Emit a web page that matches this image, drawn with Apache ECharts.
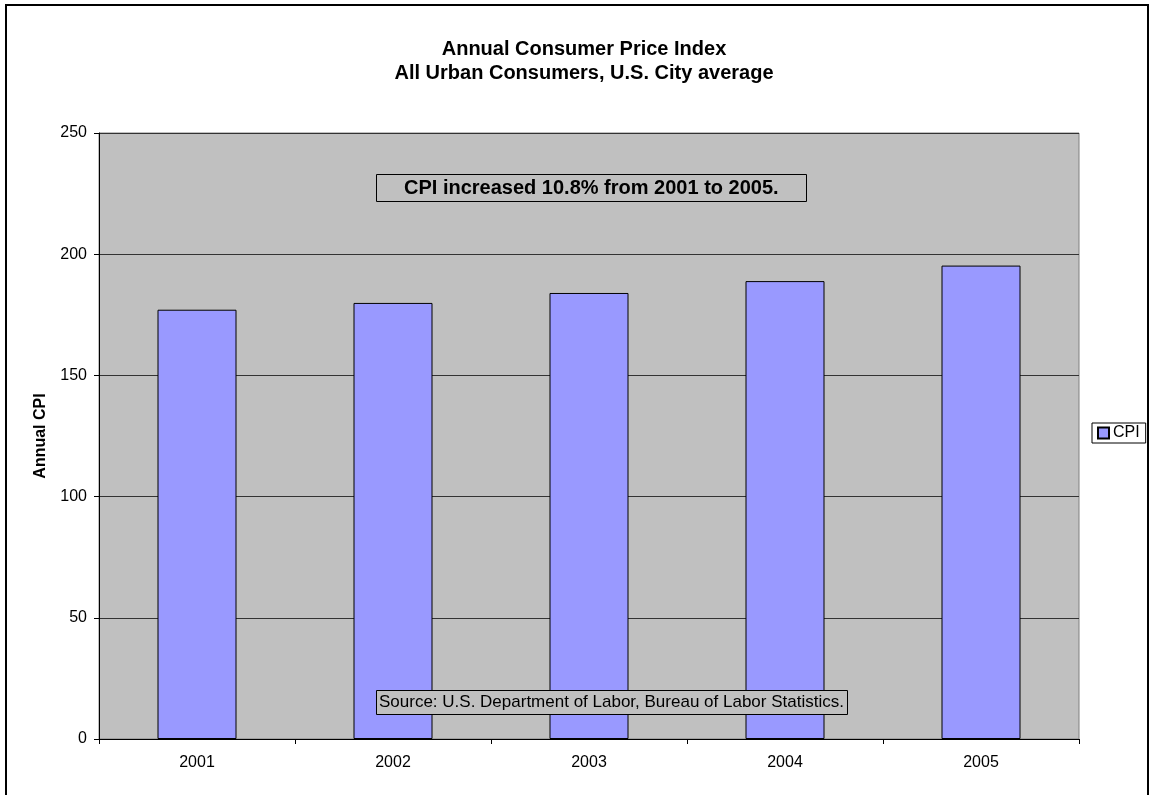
<!DOCTYPE html>
<html>
<head>
<meta charset="utf-8">
<script src="https://cdn.jsdelivr.net/npm/echarts@6/dist/echarts.min.js"></script>
<style>
  html, body { margin: 0; padding: 0; background: #fff; }
  #char { width: 1153px; height: 795px; }
</style>
</head>
<body>
<div id="char"></div>
<script>
// data
const years = ['2001', '2002', '2003', '2004', '2005']
const cpiValues = [177.1, 179.9, 184.0, 188.9, 195.3]
const yTicks = { min: 0, max: 250, interval: 50 }

const fontFamily = 'Arial, "Liberation Sans", sans-serif'
const chart = echarts.init(document.getElementById('char'))

const option = {
  backgroundColor: '#fff',
  animation: false,
  textStyle: { fontFamily: fontFamily, color: '#000' },
  title: [
    {
      text: 'Annual Consumer Price Index\nAll Urban Consumers, U.S. City average',
      left: 579,
      top: 32,
      textAlign: 'center',
      textStyle: { fontSize: 20, fontWeight: 'bold', color: '#000', lineHeight: 24, fontFamily: fontFamily }
    },
    {
      // annotation box
      text: 'CPI increased 10.8% from 2001 to 2005.',
      left: 376,
      top: 174,
      padding: [3, 28, 3, 28],
      borderColor: '#000',
      borderWidth: 1,
      backgroundColor: '#c0c0c0',
      textStyle: { fontSize: 20, lineHeight: 22, fontWeight: 'bold', color: '#000', fontFamily: fontFamily }
    },
    {
      text: 'Source: U.S. Department of Labor, Bureau of Labor Statistics.',
      left: 376,
      top: 690,
      padding: [3, 4, 3, 3],
      borderColor: '#000',
      borderWidth: 1,
      backgroundColor: '#c0c0c0',
      textStyle: { fontSize: 17, lineHeight: 19, fontWeight: 'normal', color: '#000', fontFamily: fontFamily }
    }
  ],
  legend: {
    left: 1092,
    top: 423,
    orient: 'vertical',
    padding: [2, 6, 2, 5],
    borderColor: '#000',
    borderWidth: 1,
    itemWidth: 11,
    itemHeight: 11,
    itemGap: 2,
    icon: 'rect',
    textStyle: { fontSize: 16, color: '#000', padding: [0, 0, 0, -1], fontFamily: fontFamily },
    data: ['CPI']
  },
  grid: {
    left: 99,
    right: 74,
    top: 133,
    bottom: 56,
    show: true,
    backgroundColor: '#c0c0c0',
    borderColor: '#808080',
    borderWidth: 1
  },
  xAxis: {
    type: 'category',
    data: years,
    axisLine: { lineStyle: { color: '#000', width: 1 } },
    axisTick: { show: true, length: 5, lineStyle: { color: '#000' } },
    axisLabel: { fontSize: 16, color: '#000', margin: 16 },
    splitLine: { show: false }
  },
  yAxis: {
    type: 'value',
    min: yTicks.min,
    max: yTicks.max,
    interval: yTicks.interval,
    name: 'Annual CPI',
    nameLocation: 'middle',
    nameGap: 50,
    nameRotate: 90,
    nameTextStyle: { fontSize: 16, fontWeight: 'bold', color: '#000' },
    axisLine: { show: true, lineStyle: { color: '#000', width: 1 } },
    axisTick: { show: true, length: 5, lineStyle: { color: '#000' } },
    axisLabel: { fontSize: 16, color: '#000', margin: 12 },
    splitLine: { show: true, lineStyle: { color: '#333', width: 1 } }
  },
  series: [
    {
      name: 'CPI',
      type: 'bar',
      barWidth: 79,
      itemStyle: { color: '#9999ff', borderColor: '#000', borderWidth: 1 },
      data: cpiValues
    }
  ],
  graphic: [
    {
      type: 'rect',
      silent: true,
      shape: { x: 6, y: 5, width: 1142, height: 800 },
      style: { fill: 'none', stroke: '#000', lineWidth: 2 }
    }
  ]
}

chart.setOption(option)
</script>
</body>
</html>
